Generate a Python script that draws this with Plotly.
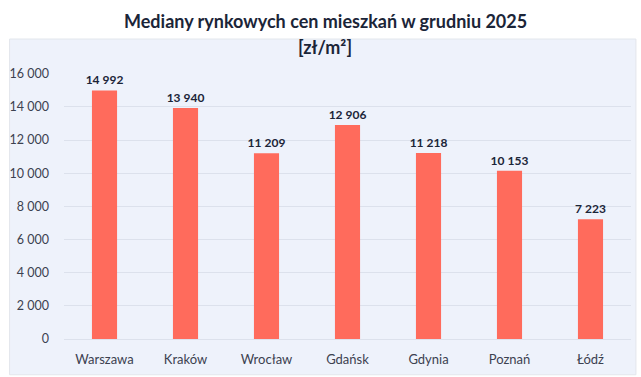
import plotly.graph_objects as go

cities = ["Warszawa", "Kraków", "Wrocław", "Gdańsk", "Gdynia", "Poznań", "Łódź"]
prices = [14992, 13940, 11209, 12906, 11218, 10153, 7223]
y_ticks = [0, 2000, 4000, 6000, 8000, 10000, 12000, 14000, 16000]
title_line1 = "Mediany rynkowych cen mieszkań w grudniu 2025"
title_line2 = "[zł/m²]"

BG = "#EEF2FB"
BAR = "#FF6B5C"
DARK = "#1B2538"

fig = go.Figure(go.Bar(
    x=cities, y=prices,
    marker=dict(color=BAR, line=dict(width=0)),
    texttemplate="%{y:,}", textposition="outside", constraintext="none",
    textfont=dict(family="Lato", size=12, color=DARK, weight="bold"),
    cliponaxis=False, width=0.31, hoverinfo="none",
))

fig.update_layout(
    width=641, height=377,
    margin=dict(l=58, r=10, t=36, b=36),
    paper_bgcolor="white", plot_bgcolor=BG,
    separators=", ",
    showlegend=False,
    font=dict(family="Lato", color="#3C4150"),
    xaxis=dict(showgrid=False, showline=False, ticks="", ticklabelstandoff=11,
               tickfont=dict(size=13, color="#3C4150"), range=[-0.5, 6.5]),
    yaxis=dict(range=[0, 16000], tickvals=y_ticks, tickformat=",", gridcolor="#DCE1EC",
               gridwidth=1, zeroline=True, zerolinecolor="#DCE1EC", zerolinewidth=1,
               showline=False, ticks="", ticklabelstandoff=14,
               tickfont=dict(size=12.5, color="#3C4150"), domain=[0, 267/305]),
    shapes=[dict(type="rect", xref="paper", yref="paper", layer="below",
                 x0=-0.096, x1=1.0087, y0=-0.118, y1=0.99,
                 fillcolor=BG, line=dict(color="#E3E6EC", width=1))],
    annotations=[
        dict(text=title_line1, xref="paper", yref="paper", x=(322-58)/573, y=(341-21)/305,
             xanchor="center", yanchor="middle", showarrow=False,
             font=dict(family="Lato", size=18, color=DARK, weight="bold")),
        dict(text=title_line2, xref="paper", yref="paper", x=(322-58)/573, y=(341-47)/305,
             xanchor="center", yanchor="middle", showarrow=False,
             font=dict(family="Lato", size=18, color=DARK, weight="bold")),
    ],
)

fig.write_html("out.html", post_script="document.body.style.margin='0';",
               config={"displayModeBar": False})
